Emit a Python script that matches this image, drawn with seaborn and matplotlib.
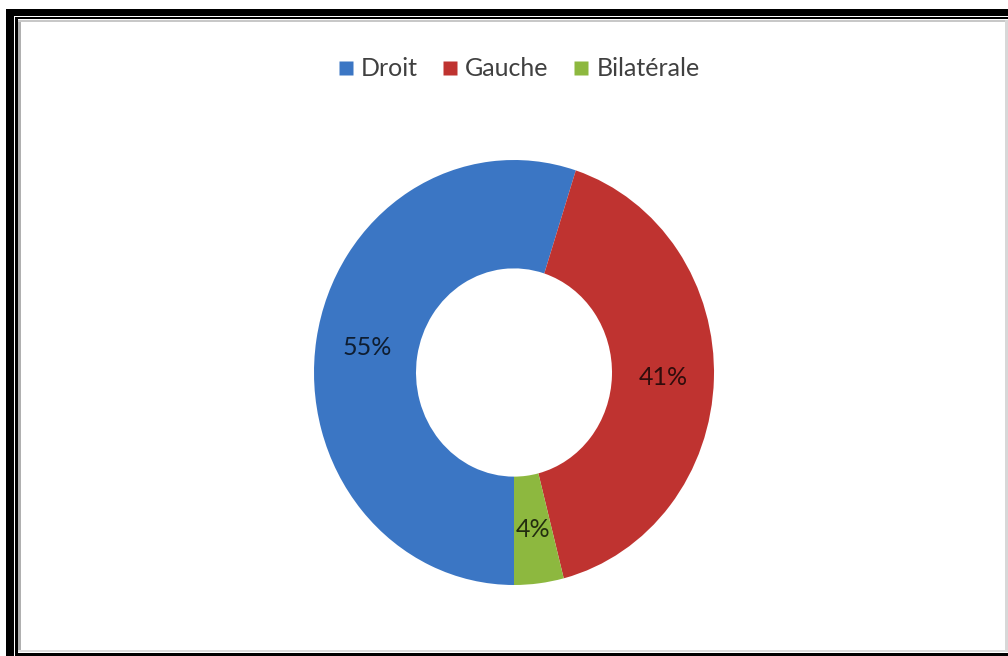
import matplotlib
matplotlib.use("Agg")
import matplotlib.pyplot as plt
from matplotlib.patches import Rectangle
from matplotlib.lines import Line2D
import seaborn as sns

# Side distribution
categories = ["Droit", "Gauche", "Bilatérale"]
values = [55, 41, 4]
colors = ["#3B76C4", "#BF3330", "#8DB83F"]

sns.set_theme(style="white")
plt.rcParams["font.family"] = ["Lato", "DejaVu Sans"]

W, H = 1008, 656
fig = plt.figure(figsize=(W / 100, H / 100), dpi=100)
fig.patch.set_facecolor("white")


def px_rect(x0, y0, x1, y1, color):
    """Rectangle given in pixel coordinates with origin at the top-left."""
    fig.patches.append(Rectangle((x0 / W, 1 - y1 / H), (x1 - x0) / W, (y1 - y0) / H,
                                 transform=fig.transFigure, facecolor=color,
                                 edgecolor="none", zorder=0))


# Double black frame with a soft grey inner edge
px_rect(6, 9, 13.5, H, "black")
px_rect(6, 9, W, 16, "black")
px_rect(15, 17, 17.5, H, "black")
px_rect(15, 17, W, 19, "black")
px_rect(15, 653, W, H, "black")
px_rect(18, 20, 21, 651, "#b0b0b0")
px_rect(18, 20, W, 22, "#c8c8c8")
px_rect(1005, 20, W, 651, "#d8d8d8")
px_rect(18, 650, W, 652, "#dcdcdc")

# Donut axes spanning the ring's bounding box
cx0, cx1, cy0, cy1 = 314, 714, 160, 585
ax = fig.add_axes([cx0 / W, 1 - cy1 / H, (cx1 - cx0) / W, (cy1 - cy0) / H])
wedges, texts, autotexts = ax.pie(
    values, colors=colors, startangle=-90, counterclock=False,
    radius=1.0, autopct="%d%%", pctdistance=0.745,
    wedgeprops=dict(width=0.51, edgecolor="none", linewidth=0),
    textprops=dict(fontsize=18, color="black", alpha=0.75),
)
ax.set_aspect("auto")
ax.set_xlim(-1, 1)
ax.set_ylim(-1, 1)
ax.axis("off")

# Legend across the top
handles = [Line2D([0], [0], marker="s", linestyle="none", markersize=10,
                  markerfacecolor=c, markeredgecolor="none") for c in colors]
fig.legend(handles, categories, loc="center", bbox_to_anchor=(519 / W, 1 - 69 / H),
           ncol=3, frameon=False, fontsize=18, handlelength=0.6, handletextpad=0.3,
           columnspacing=1.0, labelcolor="#404040")

fig.savefig("out.png", dpi=100, facecolor="white")
